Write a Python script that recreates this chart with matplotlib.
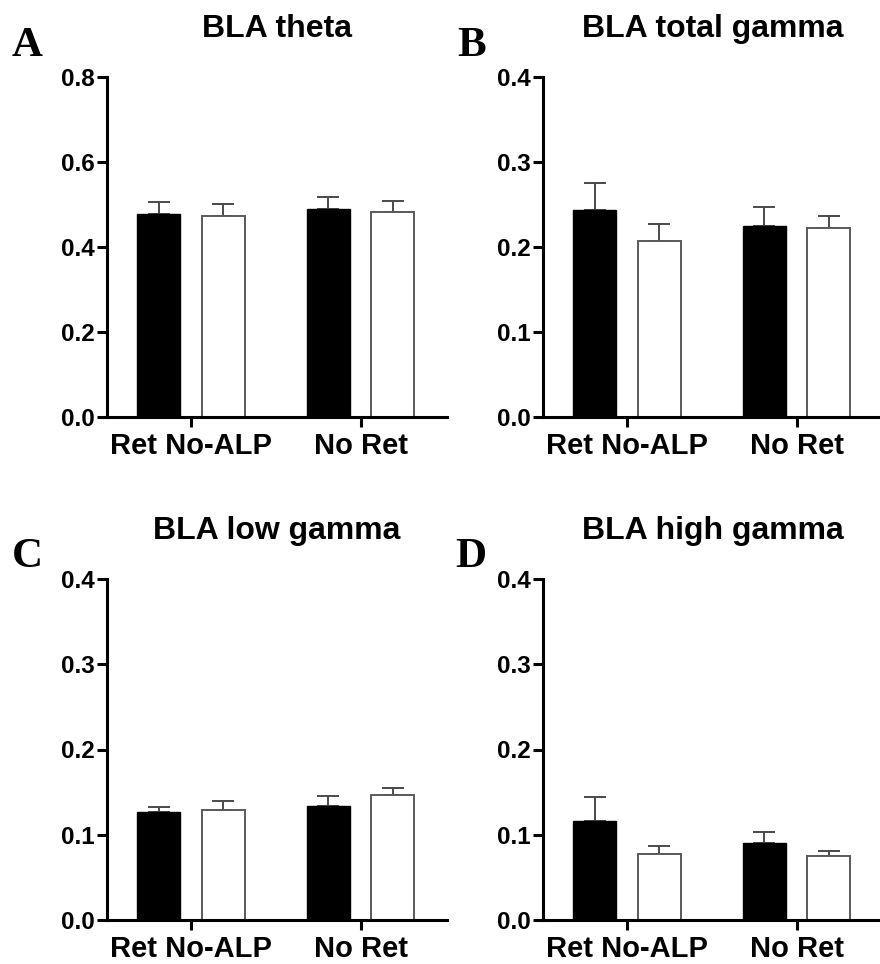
import matplotlib
matplotlib.use("Agg")
import matplotlib.pyplot as plt
import numpy as np

groups = ["Ret No-ALP", "No Ret"]
titles = ["BLA theta", "BLA total gamma", "BLA low gamma", "BLA high gamma"]
letters = ["A", "B", "C", "D"]
ymax = [0.8, 0.4, 0.4, 0.4]
yticks = [[0.0, 0.2, 0.4, 0.6, 0.8], [0.0, 0.1, 0.2, 0.3, 0.4],
          [0.0, 0.1, 0.2, 0.3, 0.4], [0.0, 0.1, 0.2, 0.3, 0.4]]

# black bars (series 1) and white bars (series 2), per panel, per group
black_mean = [[0.478, 0.489], [0.2435, 0.225], [0.127, 0.134], [0.116, 0.090]]
black_err = [[0.028, 0.029], [0.0315, 0.0225], [0.006, 0.011], [0.0285, 0.013]]
white_mean = [[0.474, 0.483], [0.2075, 0.222], [0.129, 0.1465], [0.0775, 0.0755]]
white_err = [[0.028, 0.026], [0.0195, 0.015], [0.011, 0.0085], [0.0097, 0.006]]

plt.rcParams['font.family'] = ['Liberation Sans', 'DejaVu Sans']

W, H = 880, 964
fig = plt.figure(figsize=(W / 100, H / 100), dpi=100)

# axes boxes in pixels: (left, top, width, height)
boxes = [(107, 77, 340, 340), (543, 77, 340, 340),
         (107, 579, 340, 341), (543, 579, 340, 341)]
letter_pos = [(12, 56), (457, 56), (12, 567), (455, 567)]

x = np.arange(len(groups))
bw = 0.254
off = 0.19
ecol = "#4a4a4a"

for i in range(4):
    l, t, w, h = boxes[i]
    ax = fig.add_axes([l / W, 1 - (t + h) / H, w / W, h / H])
    ax.bar(x - off, black_mean[i], width=bw, color="black", edgecolor="black",
           linewidth=1.0, zorder=2)
    ax.bar(x + off, white_mean[i], width=bw, color="white", edgecolor="#5a5a5a",
           linewidth=1.4, zorder=2)
    ax.errorbar(x - off, black_mean[i], yerr=[np.zeros(2), black_err[i]], fmt="none",
                ecolor=ecol, elinewidth=1.4, capsize=8, capthick=1.4, zorder=1)
    ax.errorbar(x + off, white_mean[i], yerr=[np.zeros(2), white_err[i]], fmt="none",
                ecolor=ecol, elinewidth=1.4, capsize=8, capthick=1.4, zorder=1)
    ax.set_xlim(-0.496, 1.51)
    ax.set_ylim(0, ymax[i])
    ax.set_yticks(yticks[i])
    ax.set_yticklabels([f"{v:.1f}" for v in yticks[i]])
    ax.set_xticks(x)
    ax.set_xticklabels(groups)
    for s in ["top", "right"]:
        ax.spines[s].set_visible(False)
    for s in ["left", "bottom"]:
        ax.spines[s].set_linewidth(2.2)
    ax.tick_params(axis="both", width=2.2, length=7, direction="out")
    ax.tick_params(axis="y", labelsize=17.5, pad=2)
    ax.tick_params(axis="x", labelsize=21, pad=4)
    for lab in ax.get_xticklabels() + ax.get_yticklabels():
        lab.set_fontweight("bold")
    ax.set_title(titles[i], fontsize=23, fontweight="bold", pad=29)
    lx, ly = letter_pos[i]
    fig.text(lx / W, 1 - ly / H, letters[i], fontsize=31, fontweight="bold",
             family=["Liberation Serif", "DejaVu Serif"], va="baseline", ha="left")

fig.savefig("out.png", dpi=100)
